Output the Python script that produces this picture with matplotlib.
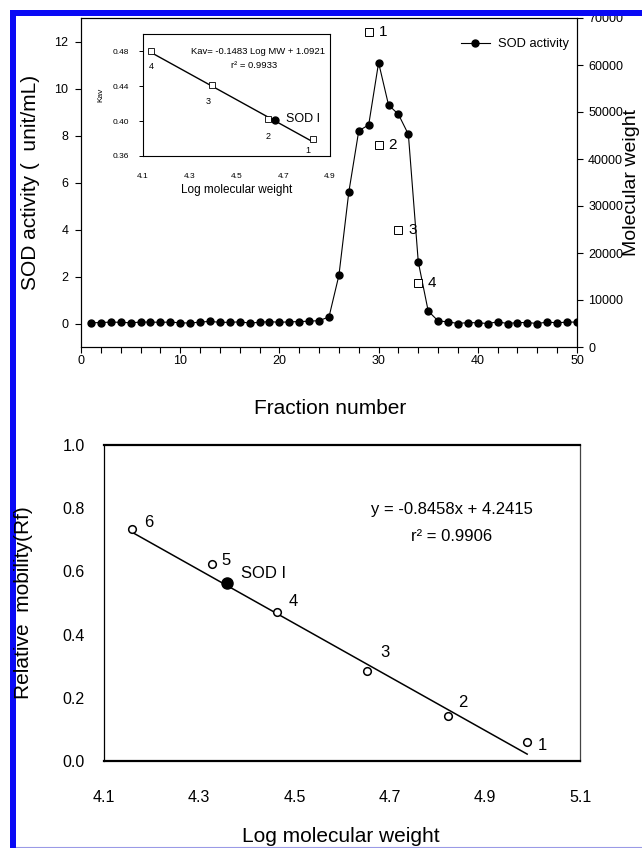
import numpy as np
import matplotlib
matplotlib.use("Agg")
import matplotlib.pyplot as plt
from matplotlib.ticker import MultipleLocator, FormatStrFormatter
from matplotlib.lines import Line2D
from matplotlib.patches import Rectangle

plt.rcParams['font.family'] = ['Liberation Sans', 'DejaVu Sans']

# ---------------- data ----------------
fractions = np.arange(1, 51)
sod_activity = [0.03, 0.04, 0.06, 0.05, 0.03, 0.06, 0.06, 0.05, 0.06, 0.03,
                0.02, 0.06, 0.09, 0.05, 0.05, 0.07, 0.02, 0.05, 0.08, 0.05,
                0.07, 0.08, 0.10, 0.12, 0.28, 2.05, 5.60, 8.20, 8.45, 11.10,
                9.30, 8.90, 8.05, 2.62, 0.53, 0.11, 0.07, 0.00, 0.04, 0.03,
                0.00, 0.07, 0.00, 0.04, 0.04, 0.00, 0.06, 0.03, 0.06, 0.06]

marker_fraction = [29, 30, 32, 34]
marker_mw = [67000, 43000, 25000, 13700]
marker_ids = ['1', '2', '3', '4']

inset_kav = [0.380, 0.402, 0.441, 0.481]
sod_inset_logmw = 4.665
sod_inset_kav = 0.401
kav_slope, kav_intercept = -0.1483, 1.0921

rf_logmw = [4.989, 4.822, 4.652, 4.463, 4.326, 4.158]
rf_values = [0.060, 0.142, 0.285, 0.470, 0.624, 0.735]
rf_ids = ['1', '2', '3', '4', '5', '6']
sod_rf_logmw = 4.358
sod_rf = 0.562
rf_slope, rf_intercept = -0.8458, 4.2415

# ---------------- layout helpers ----------------
W, H = 642, 848
fig = plt.figure(figsize=(W / 100, H / 100), dpi=100)
fig.patch.set_facecolor('white')


def rect(l, t, r, b):
    return [l / W, 1 - b / H, (r - l) / W, (b - t) / H]


# ---------------- top panel ----------------
ax1 = fig.add_axes(rect(81, 18, 577, 347))
ax1.plot(fractions, sod_activity, color='black', lw=0.8, marker='o',
         markersize=5, markerfacecolor='black', markeredgecolor='black',
         label='SOD activity', zorder=3)
ax1.set_xlim(0, 50)
ax1.set_ylim(-1, 13)
ax1.xaxis.set_major_locator(MultipleLocator(10))
ax1.xaxis.set_minor_locator(MultipleLocator(2))
ax1.set_yticks(np.arange(0, 13, 2))
ax1.tick_params(axis='both', which='both', direction='out', length=4,
                width=0.8, labelsize=9, top=False, right=False)
ax1.tick_params(axis='x', which='both', pad=2)
ax1.tick_params(axis='y', pad=5)
for s in ax1.spines.values():
    s.set_linewidth(0.8)

ax2 = ax1.twinx()
ax2.set_ylim(0, 70000)
ax2.set_yticks(np.arange(0, 70001, 10000))
ax2.tick_params(axis='y', direction='out', length=4, width=0.8,
                labelsize=9, pad=4)
ax2.plot(marker_fraction, marker_mw, linestyle='none', marker='s',
         markersize=5.5, markerfacecolor='white', markeredgecolor='black',
         markeredgewidth=0.7, zorder=4)
for xf, mw, lab in zip(marker_fraction, marker_mw, marker_ids):
    ax2.annotate(lab, (xf, mw), xytext=(7, 0), textcoords='offset points',
                 ha='left', va='center', fontsize=11)
for s in ax2.spines.values():
    s.set_linewidth(0.8)

leg = ax1.legend(loc='center right',
                 bbox_to_anchor=((569 - 81) / 496, 1 - (44 - 18) / 329),
                 frameon=False, fontsize=9.3, handlelength=2.3,
                 handletextpad=0.6, borderpad=0, borderaxespad=0,
                 numpoints=1)

fig.text(31 / W, 1 - 182 / H, 'SOD activity (  unit/mL)', rotation=90,
         ha='center', va='center', fontsize=15)
fig.text(640 / W, 1 - 182 / H, 'Molecular weight', rotation=90,
         ha='right', va='center', fontsize=14)
fig.text(330 / W, 1 - 408 / H, 'Fraction number', ha='center',
         va='center', fontsize=15)

# ---------------- inset ----------------
axi = fig.add_axes(rect(142.7, 34, 330, 156))
axi.set_zorder(5)
axi.set_facecolor('white')
inset_logmw = np.log10(marker_mw)
xfit = np.array([min(inset_logmw), max(inset_logmw)])
axi.plot(xfit, kav_slope * xfit + kav_intercept, color='black', lw=1.0,
         zorder=2)
axi.plot(inset_logmw, inset_kav, linestyle='none', marker='s',
         markersize=4, markerfacecolor='white', markeredgecolor='black',
         markeredgewidth=0.6, zorder=3)
axi.plot([sod_inset_logmw], [sod_inset_kav], linestyle='none', marker='o',
         markersize=5, color='black', zorder=4)
axi.set_xlim(4.1, 4.9)
axi.set_ylim(0.36, 0.50)
axi.set_xticks(np.arange(4.1, 4.91, 0.2))
axi.set_yticks([0.36, 0.40, 0.44, 0.48])
axi.xaxis.set_major_formatter(FormatStrFormatter('%.1f'))
axi.yaxis.set_major_formatter(FormatStrFormatter('%.2f'))
axi.tick_params(axis='y', direction='out', length=3, width=0.7,
                labelsize=6, pad=7)
axi.tick_params(axis='x', length=0, labelsize=6, pad=12)
for s in axi.spines.values():
    s.set_linewidth(0.8)
axi.set_xlabel('Log molecular weight', fontsize=8.5, labelpad=3)
axi.set_ylabel('Kav', fontsize=6, labelpad=6)
inset_label_pos = [(4.807, 0.366), (4.637, 0.382), (4.378, 0.423),
                   (4.138, 0.4627)]
for lab, (lx, ly) in zip(marker_ids, inset_label_pos):
    axi.text(lx, ly, lab, fontsize=6.5, ha='center', va='center')
axi.text(4.712, 0.402, 'SOD I', fontsize=9, ha='left', va='center')
axi.text(4.878, 0.480, 'Kav= -0.1483 Log MW + 1.0921', fontsize=6.8,
         ha='right', va='center')
axi.text(4.575, 0.4634, 'r\u00b2 = 0.9933', fontsize=6.8, ha='center',
         va='center')

# ---------------- bottom panel ----------------
ax3 = fig.add_axes(rect(104, 445, 580, 761))
xline = np.array([min(rf_logmw), max(rf_logmw)])
ax3.plot(xline, rf_slope * xline + rf_intercept, color='black', lw=1.1,
         zorder=2)
ax3.plot(rf_logmw, rf_values, linestyle='none', marker='o', markersize=5.5,
         markerfacecolor='white', markeredgecolor='black',
         markeredgewidth=1.1, zorder=3)
ax3.plot([sod_rf_logmw], [sod_rf], linestyle='none', marker='o',
         markersize=8, color='black', zorder=4)
ax3.set_xlim(4.1, 5.1)
ax3.set_ylim(0, 1.0)
ax3.set_xticks(np.arange(4.1, 5.11, 0.2))
ax3.set_yticks(np.arange(0, 1.01, 0.2))
ax3.xaxis.set_major_formatter(FormatStrFormatter('%.1f'))
ax3.yaxis.set_major_formatter(FormatStrFormatter('%.1f'))
ax3.tick_params(axis='y', length=0, labelsize=11.5, pad=14)
ax3.tick_params(axis='x', length=0, labelsize=11.5, pad=21)
ax3.spines['top'].set_linewidth(1.6)
ax3.spines['bottom'].set_linewidth(1.6)
ax3.spines['left'].set_linewidth(0.9)
ax3.spines['right'].set_linewidth(0.9)
ax3.spines['right'].set_color('#444444')

rf_label_pos = [(5.022, 0.050), (4.854, 0.185), (4.690, 0.343),
                (4.498, 0.505), (4.357, 0.635), (4.193, 0.755)]
for lab, (lx, ly) in zip(rf_ids, rf_label_pos):
    ax3.text(lx, ly, lab, fontsize=12, ha='center', va='center')
ax3.text(4.388, 0.592, 'SOD I', fontsize=12, ha='left', va='center')
ax3.text(4.831, 0.795, 'y = -0.8458x + 4.2415', fontsize=12, ha='center',
         va='center')
ax3.text(4.831, 0.710, 'r\u00b2 = 0.9906', fontsize=12, ha='center',
         va='center')

fig.text(24 / W, 1 - 603 / H, 'Relative  mobility(Rf)', rotation=90,
         ha='center', va='center', fontsize=15, zorder=12)
fig.text(341 / W, 1 - 836 / H, 'Log molecular weight', ha='center',
         va='center', fontsize=15)

# ---------------- page border ----------------
blue = '#0a0af5'
fig.add_artist(Rectangle((10 / W, 0), 6 / W, 1 - 10 / H,
                         transform=fig.transFigure, facecolor=blue,
                         edgecolor='none', zorder=10))
fig.add_artist(Rectangle((10 / W, 1 - 16 / H), 1 - 10 / W, 6 / H,
                         transform=fig.transFigure, facecolor=blue,
                         edgecolor='none', zorder=10))
fig.add_artist(Line2D([16 / W, 1], [1 - 846.5 / H] * 2,
                      transform=fig.transFigure, color='#9a9ae6', lw=0.8,
                      zorder=10))

fig.savefig('out.png', dpi=100)
